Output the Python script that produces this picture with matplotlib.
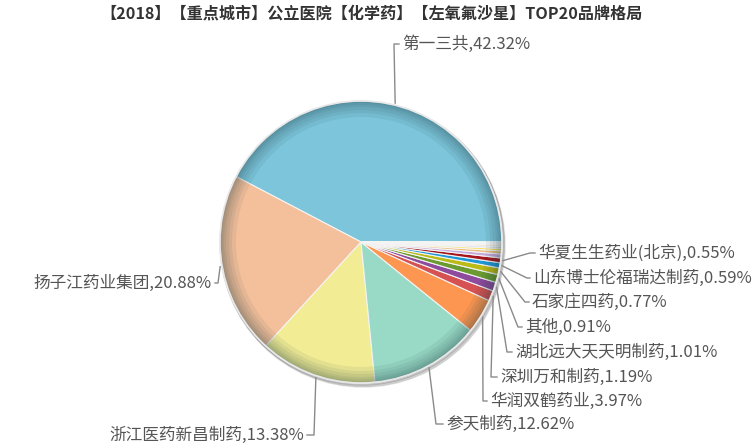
import matplotlib.pyplot as plt
import numpy as np
from matplotlib.patches import Wedge, Circle

plt.rcParams['font.family'] = ['Noto Sans CJK SC', 'DejaVu Sans']

title = '【2018】【重点城市】公立医院【化学药】【左氧氟沙星】TOP20品牌格局'

# brand shares (%), in drawing order; the last ones carry no label
brands = ['第一三共', '扬子江药业集团', '浙江医药新昌制药', '参天制药', '华润双鹤药业',
          '深圳万和制药', '湖北远大天天明制药', '其他', '石家庄四药', '山东博士伦福瑞达制药',
          '华夏生生药业(北京)', '', '', '', '', '', '', '', '', '']
shares = [42.32, 20.88, 13.38, 12.62, 3.97,
          1.19, 1.01, 0.91, 0.77, 0.59,
          0.55, 0.45, 0.35, 0.28, 0.22, 0.18, 0.13, 0.10, 0.06, 0.04]
colors = ['#7cc5da', '#f4c09b', '#f2ec95', '#99dac6', '#fd9651',
          '#d65252', '#8e4a9c', '#6a9a30', '#bcba14', '#1e98d6',
          '#a5151e', '#c7a9dc', '#eeb978', '#f8e35a', '#cfd8e2',
          '#f3c9a6', '#e4e49a', '#a9d8e8', '#f0a070', '#d7b0b0']

# label layout: text x, text y, alignment, elbow x (pixels)
label_pos = {
    '第一三共': (402, 44, 'left', 394),
    '扬子江药业集团': (212, 283, 'right', 218),
    '浙江医药新昌制药': (304, 435, 'right', 314),
    '参天制药': (446, 424, 'left', 436),
    '华润双鹤药业': (490, 401, 'left', 483),
    '深圳万和制药': (500, 377, 'left', 491),
    '湖北远大天天明制药': (515, 352, 'left', 507),
    '其他': (525, 327, 'left', 518),
    '石家庄四药': (532, 302, 'left', 525),
    '山东博士伦福瑞达制药': (533, 278, 'left', 527),
    '华夏生生药业(北京)': (538, 253, 'left', 530),
}

cx, cy, R = 361, 242, 141

fig = plt.figure(figsize=(7.54, 4.44), dpi=100)
ax = fig.add_axes([0, 0, 1, 1])

# drop shadow
ax.add_patch(Circle((cx + 2, cy + 3), R + 1, color='#000000', alpha=0.12, zorder=0))
ax.add_patch(Circle((cx + 1, cy + 1.5), R + 1, color='#000000', alpha=0.12, zorder=0))

wedges, _ = ax.pie(shares, colors=colors, startangle=0, counterclock=False,
                   center=(cx, cy), radius=R, frame=True,
                   wedgeprops=dict(edgecolor='#f4f4f4', linewidth=0.8))

# darker rim to fake the bevel (stacked translucent rings)
for w in [16, 12, 9, 6, 4, 2]:
    ax.add_patch(Wedge((cx, cy), R, 0, 360, width=w, facecolor='#1a3a40',
                       edgecolor='none', alpha=0.07, zorder=3))
ax.add_patch(Circle((cx, cy), R, fill=False, ec='#e8e8e8', lw=1.2, zorder=4))

# labels with connectors
cum = 0.0
total = sum(shares)
for name, v in zip(brands, shares):
    mid = (cum + v / 2) / total * 360.0
    cum += v
    if not name:
        continue
    tx, ty, ha, ex = label_pos[name]
    ang = np.deg2rad(mid)
    px = cx + (R + 2) * np.cos(ang)
    py = cy - (R + 2) * np.sin(ang)
    end = tx - 3 if ha == 'left' else tx + 3
    ax.plot([px, ex, end], [py, ty, ty], color='#8a8a8a', lw=1.0, zorder=5)
    ax.text(tx, ty, '%s,%.2f%%' % (name, v), ha=ha, va='center',
            fontsize=12, color='#555555', zorder=6)

ax.text(372, 13, title, ha='center', va='center', fontsize=11.6,
        fontweight='bold', color='#333333')

ax.set_xlim(0, 754)
ax.set_ylim(444, 0)
ax.set_aspect('equal')
ax.axis('off')

fig.savefig('out.png', dpi=100)
